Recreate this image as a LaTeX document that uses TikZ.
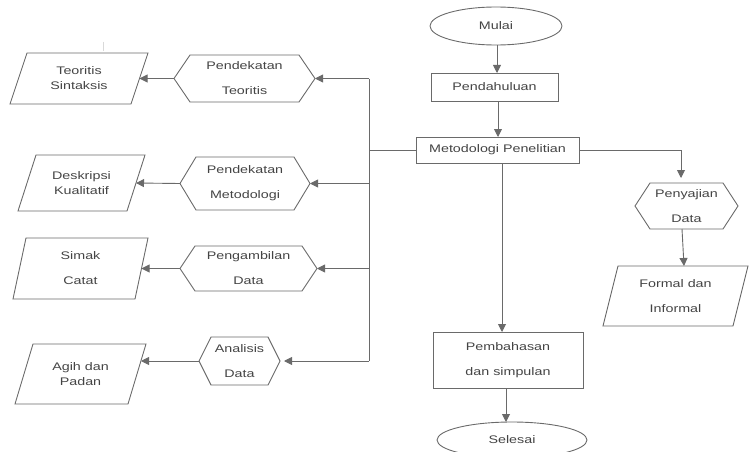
\documentclass[tikz,border=0pt]{standalone}
\usepackage{fontspec}
\setmainfont[FakeStretch=1.3]{Liberation Sans}
\usetikzlibrary{arrows.meta,shapes.geometric}
\definecolor{ln}{HTML}{6A6A6A}
\definecolor{tx}{HTML}{444444}
\newcommand\myhex[2]{\draw[shp] (#1.west) -- ([xshift=#2]#1.north west) -- ([xshift=-#2]#1.north east) -- (#1.east) -- ([xshift=-#2]#1.south east) -- ([xshift=#2]#1.south west) -- cycle;}
\newcommand\mypara[2]{\draw[shp] ([xshift=#2]#1.north west) -- (#1.north east) -- ([xshift=-#2]#1.south east) -- (#1.south west) -- cycle;}
\begin{document}
\begin{tikzpicture}[x=1pt,y=-1pt,
  shp/.style={draw=ln,line width=0.9pt},
  box/.style={inner sep=0pt,outer sep=0pt,text=tx,align=center,font=\fontsize{11}{15}\selectfont},
  loose/.style={box,font=\fontsize{11}{25}\selectfont},
  rbox/.style={box,draw=ln,line width=0.9pt,rectangle},
  ebox/.style={box,draw=ln,line width=0.9pt,ellipse},
  arr/.style={draw=ln,line width=0.9pt,-{Triangle[length=8pt,width=8pt]}},
  conn/.style={draw=ln,line width=0.9pt}]
\useasboundingbox (0,0) rectangle (749,452);
\begin{scope}
\clip (0,0) rectangle (749,452);
% main column
\node[ebox,minimum width=132,minimum height=38] (mulai) at (496,26) {Mulai};
\node[rbox,minimum width=127,minimum height=28] (pend) at (494.5,87) {Pendahuluan};
\node[rbox,minimum width=163,minimum height=26] (metod) at (497.5,150) {Metodologi Penelitian};
\node[rbox,loose,draw=ln,line width=0.9pt,minimum width=150,minimum height=56] (pemb) at (508,360) {Pembahasan\\dan simpulan};
\node[ebox,minimum width=150,minimum height=36] (selesai) at (512,440) {Selesai};
% hexagons
\node[loose,minimum width=141,minimum height=47] (pt) at (244.5,78.5) {Pendekatan\\Teoritis};
\node[loose,minimum width=130,minimum height=53] (pm) at (245,183.5) {Pendekatan\\Metodologi};
\node[loose,minimum width=137,minimum height=45] (pd) at (248.5,268.5) {Pengambilan\\Data};
\node[loose,minimum width=81,minimum height=48] (ad) at (239.5,361) {Analisis\\Data};
\node[loose,minimum width=103,minimum height=46] (pyd) at (686.5,206) {Penyajian\\Data};
\myhex{pt}{16}
\myhex{pm}{16}
\myhex{pd}{15}
\myhex{ad}{12}
\myhex{pyd}{15}
% parallelograms
\node[box,minimum width=138,minimum height=51] (ts) at (79,78.5) {Teoritis\\Sintaksis};
\node[box,minimum width=127,minimum height=56] (dk) at (81.5,183) {Deskripsi\\Kualitatif};
\node[loose,minimum width=135,minimum height=61] (sc) at (80.5,268.5) {Simak\\Catat};
\node[box,minimum width=131,minimum height=60] (ap) at (80.5,374) {Agih dan\\Padan};
\node[loose,minimum width=145,minimum height=60] (fi) at (675.5,296) {Formal dan\\Informal};
\mypara{ts}{17}
\mypara{dk}{18}
\mypara{sc}{13}
\mypara{ap}{18}
\mypara{fi}{15}
% connectors main column
\draw[arr] ([xshift=1]mulai.south) -- ([xshift=1]mulai.south |- pend.north);
\draw[arr] ([xshift=0.5]metod.north |- pend.south) -- ([xshift=0.5]metod.north);
\draw[arr] ([xshift=4.5]metod.south) -- ([xshift=4.5]metod.south |- pemb.north);
\draw[arr] ([xshift=-2]pemb.south) -- ([xshift=-2]pemb.south |- selesai.north);
% bus
\coordinate (bus) at (369,150);
\coordinate (bt) at (369,78.5);
\coordinate (bb) at (369,361);
\draw[conn] (metod.west) -- (bus);
\draw[conn] (bt) -- (bb);
\draw[arr] (bt) -- (pt.east);
\draw[arr] (pm.east -| bus) -- (pm.east);
\draw[arr] (pd.east -| bus) -- (pd.east);
\draw[arr,shorten >=4pt] (bb) -- (ad.east);
% hexagon to parallelogram
\draw[arr] (pt.west) -- ([xshift=-8.5]ts.east);
\draw[arr] (pm.west) -- ([xshift=-9]dk.east);
\draw[arr] (pd.west) -- ([xshift=-6.5]sc.east);
\path (ad.west -| ap.east) ++(-5,0) coordinate (apin);
\draw[arr] (ad.west) -- (apin);
% right branch
\coordinate (rc) at (681,150);
\draw[arr,shorten >=5pt] (metod.east) -- (rc) -- (rc |- pyd.north);
\draw[arr] ([xshift=-4.5]pyd.south) -- ([xshift=8.5]fi.north);
% faint tick
\draw[black!15,line width=0.8pt] (103,42) -- (103,51);
\end{scope}
\end{tikzpicture}
\end{document}
